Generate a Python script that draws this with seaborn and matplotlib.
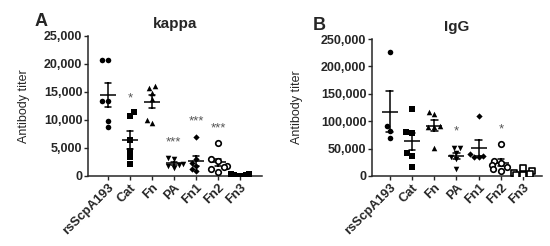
import numpy as np
import pandas as pd
import matplotlib
matplotlib.use("Agg")
import matplotlib.pyplot as plt
from matplotlib.ticker import FuncFormatter
import seaborn as sns

groups = ["rsScpA193", "Cat", "Fn", "PA", "Fn1", "Fn2", "Fn3"]

kappa = {
    "rsScpA193": [20700, 20700, 13400, 13400, 9900, 8750],
    "Cat": [11400, 10800, 6500, 4500, 3400, 2200],
    "Fn": [15700, 16100, 14800, 13750, 9400, 10000],
    "PA": [3300, 3100, 2100, 2000, 1700, 1400],
    "Fn1": [6900, 3100, 2300, 1800, 1200, 900],
    "Fn2": [5950, 3100, 2600, 1700, 1600, 1200, 800],
    "Fn3": [100, 200, 300, 50, 150, 400],
}
igg = {
    "rsScpA193": [227000, 91000, 82000, 70000],
    "Cat": [123000, 81000, 78000, 42000, 37000, 17000],
    "Fn": [116000, 113000, 91000, 90000, 90000, 52000],
    "PA": [51000, 51000, 42000, 34000, 31000, 12000],
    "Fn1": [110000, 40000, 37000, 35000, 35000],
    "Fn2": [58000, 27000, 24000, 20000, 17000, 12000, 10000],
    "Fn3": [15000, 10000, 6000, 4000, 2000, 1000],
}

kappa_sig = {"Cat": ("*", 12800), "PA": ("***", 5000), "Fn1": ("***", 8600), "Fn2": ("***", 7500)}
igg_sig = {"PA": ("*", 70000), "Fn2": ("*", 74000)}

markers = {"rsScpA193": "o", "Cat": "s", "Fn": "^", "PA": "v", "Fn1": "D", "Fn2": "o", "Fn3": "s"}
open_groups = {"kappa": ["Fn2"], "IgG": ["Fn2", "Fn3"]}


def to_long(d):
    rows = [(g, v) for g in groups for v in d[g]]
    return pd.DataFrame(rows, columns=["group", "titer"])


sns.set_style("ticks")
plt.rcParams["font.family"] = ["Liberation Sans", "DejaVu Sans"]

fig = plt.figure(figsize=(5.5, 2.46), dpi=100)
ax_a = fig.add_axes([88 / 550, 70 / 246, 174 / 550, 140 / 246])
ax_b = fig.add_axes([372 / 550, 70 / 246, 170 / 550, 137 / 246])


def panel(ax, data, sig, title, letter, ymax, step, kind, xlim, labelpad, letter_x):
    df = to_long(data)
    for g in groups:
        sub = df[df["group"] == g]
        ms = 3.2 if markers[g] == "D" else 4
        if g in open_groups[kind]:
            sns.swarmplot(data=sub, x="group", y="titer", order=groups, ax=ax,
                          marker=markers[g], color="white", edgecolor="black",
                          linewidth=1.2, size=ms)
        else:
            sns.swarmplot(data=sub, x="group", y="titer", order=groups, ax=ax,
                          marker=markers[g], color="black", size=ms)
    # mean +/- SEM
    sns.pointplot(data=df, x="group", y="titer", order=groups, ax=ax,
                  errorbar="se", capsize=0.3, marker="_", markersize=12,
                  markeredgewidth=1.1, linestyle="none", color="black",
                  err_kws={"linewidth": 1.1})
    for g, (s, y) in sig.items():
        ax.text(groups.index(g), y, s, ha="center", va="bottom",
                fontsize=9.5, color="#555555")
    ax.set_ylim(0, ymax)
    ax.set_xlim(*xlim)
    ax.set_yticks(np.arange(0, ymax + 1, step))
    ax.yaxis.set_major_formatter(FuncFormatter(lambda v, p: f"{int(v):,}"))
    ax.set_xlabel("")
    ax.set_ylabel("Antibody titer", fontsize=9, labelpad=labelpad)
    ax.set_title(title, fontsize=11, fontweight="bold", pad=6)
    ax.tick_params(axis="both", labelsize=9, length=3, width=1, pad=1)
    for lab in ax.get_yticklabels():
        lab.set_fontweight("bold")
    ax.set_xticks(range(len(groups)))
    ax.set_xticklabels(groups, rotation=45, ha="right", rotation_mode="anchor",
                       fontweight="bold", fontsize=9.3)
    for sp in ["left", "bottom"]:
        ax.spines[sp].set_linewidth(1.1)
    sns.despine(ax=ax)
    ax.text(letter_x, 1.04, letter, transform=ax.transAxes, fontsize=13,
            fontweight="bold", va="bottom")


panel(ax_a, kappa, kappa_sig, "kappa", "A", 25000, 5000, "kappa", (-0.9, 7.0), 10, -0.31)
panel(ax_b, igg, igg_sig, "IgG", "B", 250000, 50000, "IgG", (-0.8, 6.85), 13, -0.35)

fig.savefig("out.png", dpi=100)
